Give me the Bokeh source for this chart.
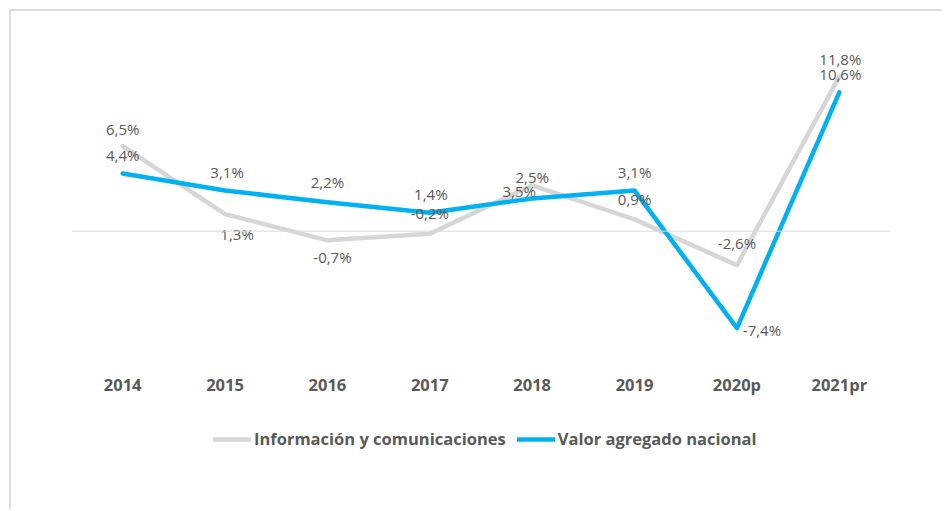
from bokeh.plotting import figure
from bokeh.models import FactorRange, Range1d, Span, Legend, LegendItem, ColumnDataSource
from bokeh.core.properties import value
from bokeh.embed import file_html
from bokeh.resources import INLINE

years = ["2014", "2015", "2016", "2017", "2018", "2019", "2020p", "2021pr"]
info_com = [6.5, 1.3, -0.7, -0.2, 3.5, 0.9, -2.6, 11.8]
valor_nac = [4.4, 3.1, 2.2, 1.4, 2.5, 3.1, -7.4, 10.6]
series_names = ["Información y comunicaciones", "Valor agregado nacional"]

def fmt(v):
    return f"{v:.1f}%".replace(".", ",")

GRAY = "#D6D6D6"
BLUE = "#00B0F0"
TXT = "#595959"
FONT = "Open Sans"

p = figure(width=933, height=500, output_backend="svg", toolbar_location=None,
           x_range=FactorRange(factors=years, range_padding=0),
           y_range=Range1d(-18.27, 16.08),
           min_border_left=60, min_border_right=54, min_border_top=9, min_border_bottom=41,
           background_fill_color="white", border_fill_color="white")
p.styles = {"margin-left": "11px", "margin-top": "11px",
            "box-shadow": "-2px -2px 0 0 #DCDCDC"}
p.outline_line_color = None
p.grid.visible = False
p.yaxis.visible = False

xa = p.xaxis[0]
xa.fixed_location = -10.1
xa.axis_line_color = None
xa.major_tick_line_color = None
xa.minor_tick_line_color = None
xa.major_label_text_font = FONT
xa.major_label_text_font_style = "bold"
xa.major_label_text_font_size = "16.5px"
xa.major_label_text_color = TXT
xa.major_label_standoff = 4

p.add_layout(Span(location=0, dimension="width", line_color="#D9D9D9", line_width=1))

r1 = p.line(years, info_com, line_color=GRAY, line_width=4.5, line_join="round", line_cap="round")
r2 = p.line(years, valor_nac, line_color=BLUE, line_width=4.5, line_join="round", line_cap="round")

# label offsets (screen px, positive = down / right)
g_dx = [0, 12, 5, 0, -13, 0, 0, 1]
g_dy = [-17.5, 20, 17, -21, 6, -20, -22, -18]
b_dx = [0, 2, 0, 1, 0, 0, 25, 1]
b_dy = [-19, -19, -20, -19, -21, -19, 2, -18]

src_g = ColumnDataSource(dict(x=years, y=info_com, t=[fmt(v) for v in info_com], dx=g_dx, dy=g_dy))
src_b = ColumnDataSource(dict(x=years, y=valor_nac, t=[fmt(v) for v in valor_nac], dx=b_dx, dy=b_dy))
for src in (src_g, src_b):
    p.text(x="x", y="y", text="t", x_offset="dx", y_offset="dy", source=src,
           text_font=value(FONT), text_font_size="15px", text_color=TXT,
           text_align="center", text_baseline="middle")

legend = Legend(items=[LegendItem(label=series_names[0], renderers=[r1]),
                       LegendItem(label=series_names[1], renderers=[r2])],
                orientation="horizontal", location=(142, 20))
legend.label_text_font = FONT
legend.label_text_font_style = "bold"
legend.label_text_font_size = "16.5px"
legend.label_text_color = TXT
legend.glyph_width = 38
legend.glyph_height = 20
legend.label_standoff = 3
legend.spacing = 11
legend.padding = 0
legend.margin = 0
legend.border_line_color = None
legend.background_fill_alpha = 0
p.add_layout(legend)

open("out.html", "w").write(file_html(p, INLINE))
